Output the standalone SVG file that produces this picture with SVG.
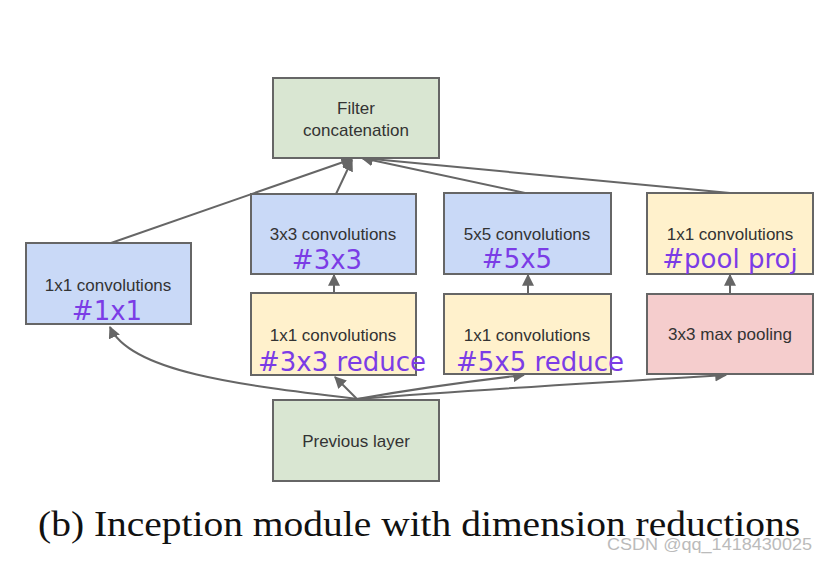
<svg xmlns="http://www.w3.org/2000/svg" width="828" height="561" viewBox="0 0 828 561">
<style>
.box{stroke:#666;stroke-width:2}
.g{fill:#d9e6d2}.b{fill:#c9d9f7}.y{fill:#fff1cc}.r{fill:#f5cdcd}
.lbl{font-family:"Liberation Sans",Arial,sans-serif;font-size:17px;fill:#333;text-anchor:middle}
.hash{font-family:"DejaVu Sans",sans-serif;font-size:26px;fill:#7b3ce6;text-anchor:middle}
.c{fill:none;stroke:#666;stroke-width:2}
.cap{font-family:"Liberation Serif","Times New Roman",serif;font-size:35px;fill:#111}
.wm{font-family:"Liberation Sans",Arial,sans-serif;font-size:16px;fill:#bbb}
</style>
<defs>
<marker id="ah" viewBox="0 0 10 10" refX="9" refY="5" markerWidth="6" markerHeight="6" orient="auto" markerUnits="strokeWidth">
<path d="M0,0 L10,5 L0,10 z" fill="#666"/>
</marker>
</defs>
<rect width="828" height="561" fill="#fff"/>
<g id="connectors">
<path class="c" d="M111,243 L352,159" marker-end="url(#ah)"/>
<path class="c" d="M336,194 L352,160" marker-end="url(#ah)"/>
<path class="c" d="M525,193 L362,158" marker-end="url(#ah)"/>
<path class="c" d="M730,193 L362,158" marker-end="url(#ah)"/>
<path class="c" d="M334,293 L334,275" marker-end="url(#ah)"/>
<path class="c" d="M528,293 L528,275" marker-end="url(#ah)"/>
<path class="c" d="M730,293 L730,275" marker-end="url(#ah)"/>
<path class="c" d="M357,399 C 240,385 130,372 110,327" marker-end="url(#ah)"/>
<path class="c" d="M357,399 L335,377" marker-end="url(#ah)"/>
<path class="c" d="M357,399 C 420,388 480,380 524,375" marker-end="url(#ah)"/>
<path class="c" d="M357,399 C 500,388 640,380 726,375" marker-end="url(#ah)"/>
</g>
<g id="filter">
<rect class="box g" x="273" y="78" width="166" height="80"/>
<text class="lbl" x="356" y="114">Filter</text>
<text class="lbl" x="356" y="136">concatenation</text>
</g>
<g id="conv1x1">
<rect class="box b" x="26" y="243" width="165" height="81"/>
<text class="lbl" x="108" y="291">1x1 convolutions</text>
<text class="hash" x="107" y="320">#1x1</text>
</g>
<g id="conv3x3">
<rect class="box b" x="251" y="194" width="165" height="80"/>
<text class="lbl" x="333" y="240">3x3 convolutions</text>
<text class="hash" x="327" y="269">#3x3</text>
</g>
<g id="conv5x5">
<rect class="box b" x="444" y="193" width="167" height="81"/>
<text class="lbl" x="527" y="240">5x5 convolutions</text>
<text class="hash" x="517" y="268">#5x5</text>
</g>
<g id="poolproj">
<rect class="box y" x="647" y="193" width="166" height="81"/>
<text class="lbl" x="730" y="240">1x1 convolutions</text>
<text class="hash" x="730" y="268">#pool proj</text>
</g>
<g id="reduce3x3">
<rect class="box y" x="251" y="293" width="165" height="82"/>
<text class="lbl" x="333" y="341">1x1 convolutions</text>
<text class="hash" x="342" y="371">#3x3 reduce</text>
</g>
<g id="reduce5x5">
<rect class="box y" x="444" y="294" width="167" height="80"/>
<text class="lbl" x="527" y="341">1x1 convolutions</text>
<text class="hash" x="540" y="371">#5x5 reduce</text>
</g>
<g id="maxpool">
<rect class="box r" x="647" y="294" width="166" height="80"/>
<text class="lbl" x="730" y="340">3x3 max pooling</text>
</g>
<g id="previous">
<rect class="box g" x="273" y="400" width="166" height="81"/>
<text class="lbl" x="356" y="447">Previous layer</text>
</g>
<text class="cap" x="38" y="536" textLength="762" lengthAdjust="spacingAndGlyphs">(b) Inception module with dimension reductions</text>
<text class="wm" x="607" y="550" textLength="205" lengthAdjust="spacingAndGlyphs">CSDN @qq_1418430025</text>
</svg>
